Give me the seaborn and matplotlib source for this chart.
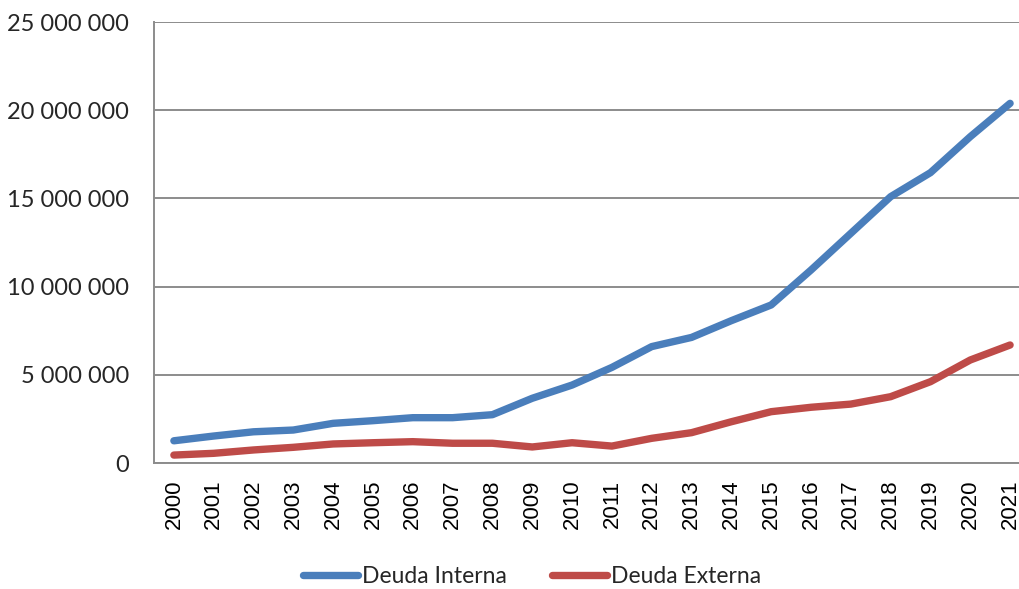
import matplotlib
matplotlib.use("Agg")
import matplotlib.pyplot as plt
import matplotlib.ticker as mticker
import numpy as np
import pandas as pd
import seaborn as sns

years = list(range(2000, 2022))
deuda_interna = [1.26e6, 1.53e6, 1.77e6, 1.87e6, 2.25e6, 2.40e6, 2.57e6, 2.57e6,
                 2.74e6, 3.67e6, 4.42e6, 5.42e6, 6.60e6, 7.12e6, 8.07e6, 8.96e6,
                 10.94e6, 13.02e6, 15.10e6, 16.46e6, 18.50e6, 20.39e6]
deuda_externa = [0.45e6, 0.55e6, 0.74e6, 0.89e6, 1.08e6, 1.15e6, 1.21e6, 1.12e6,
                 1.12e6, 0.91e6, 1.15e6, 0.96e6, 1.40e6, 1.72e6, 2.34e6, 2.91e6,
                 3.16e6, 3.34e6, 3.76e6, 4.61e6, 5.84e6, 6.69e6]
series_names = ["Deuda Interna", "Deuda Externa"]
y_ticks = [0, 5e6, 10e6, 15e6, 20e6, 25e6]

df = pd.DataFrame({
    "year": years * 2,
    "value": deuda_interna + deuda_externa,
    "serie": [series_names[0]] * len(years) + [series_names[1]] * len(years),
})

sns.set_theme(style="white")
plt.rcParams["font.family"] = ["Lato", "DejaVu Sans"]

fig = plt.figure(figsize=(10.19, 5.89), dpi=100)
ax = fig.add_axes([0.1511, 0.2139, 0.8597, 0.7487])

sns.lineplot(data=df, x="year", y="value", hue="serie", hue_order=series_names,
             palette=["#4a7ebb", "#be4b48"], linewidth=5.3, ax=ax,
             solid_capstyle="round", solid_joinstyle="round", zorder=3)

ax.set_xlim(1999.5, 2021.5)
ax.set_ylim(0, 25e6)
ax.set_yticks(y_ticks)
ax.set_xticks(years)
ax.yaxis.set_major_formatter(
    mticker.FuncFormatter(lambda v, p: f"{v:,.0f}".replace(",", " ")))
ax.grid(axis="y", color="#8c8c8c", linewidth=1.4, zorder=1)
ax.grid(axis="x", visible=False)
for side in ["top", "right"]:
    ax.spines[side].set_visible(False)
for side in ["left", "bottom"]:
    ax.spines[side].set_color("#8c8c8c")
    ax.spines[side].set_linewidth(1.4)

ax.tick_params(axis="y", length=0, pad=18, labelsize=17, labelcolor="#262626")
ax.tick_params(axis="x", length=0, pad=12, labelsize=16, labelcolor="#000000")
for lab in ax.get_xticklabels():
    lab.set_rotation(90)
    lab.set_family(["Liberation Sans", "DejaVu Sans"])
ax.set_xlabel("")
ax.set_ylabel("")

handles, labels = ax.get_legend_handles_labels()
ax.legend(handles, labels, loc="center", bbox_to_anchor=(0.522, 0.021),
          bbox_transform=fig.transFigure, ncol=2, frameon=False,
          fontsize=16.5, handlelength=2.4, handletextpad=0.15, columnspacing=2.0)

fig.savefig("out.png", dpi=100)
